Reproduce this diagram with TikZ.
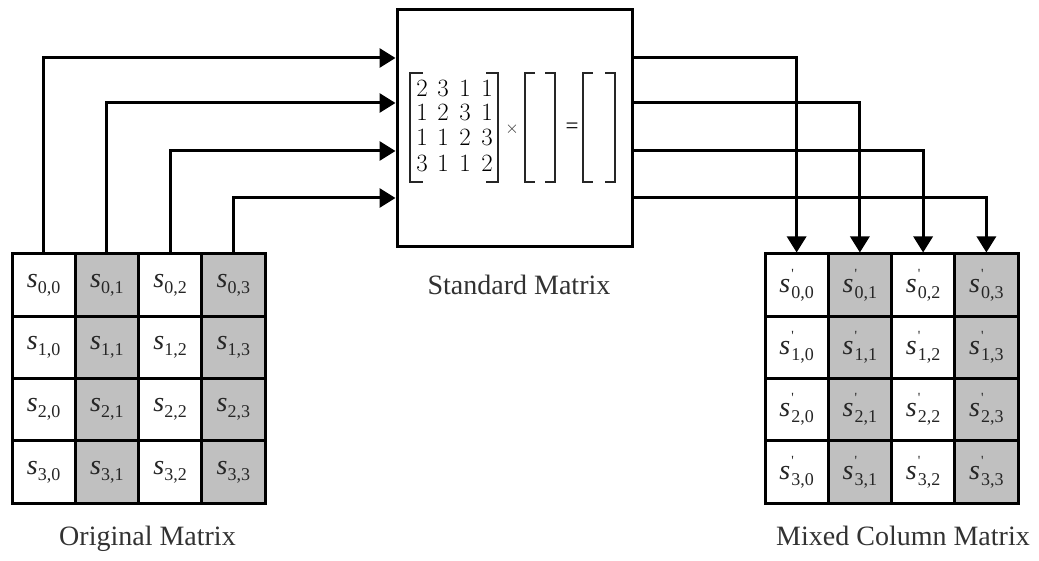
\documentclass[tikz,border=0pt]{standalone}
\usepackage{fontspec}
\setmainfont{Liberation Serif}
\usetikzlibrary{arrows.meta}
\definecolor{cellgrey}{RGB}{192,192,192}
\definecolor{txt}{RGB}{50,50,50}
\newcommand{\sv}[1]{\textit{s}\raisebox{-6pt}{\fontsize{18}{18}\selectfont #1}}
\newcommand{\spv}[1]{\textit{s}\kern1pt\rlap{\raisebox{14pt}{\fontsize{14}{14}\selectfont\textquotesingle}}\raisebox{-6pt}{\fontsize{18}{18}\selectfont #1}}
\tikzset{
  cellbox/.style={draw, line width=3pt, minimum width=63.25pt, minimum height=62.25pt,
    inner sep=0pt, font=\fontsize{28}{28}\selectfont, text=black!85},
  arr/.style={line width=3pt, -{Triangle[length=16pt,width=19pt]}},
  lbl/.style={font=\fontsize{28}{30}\selectfont, text=txt, anchor=base, inner sep=0pt},
  digit/.style={font=\fontsize{23}{23}\selectfont, text=black, inner sep=0pt},
  brk/.style={line width=1.6pt, draw=black!85}
}
\begin{document}
\begin{tikzpicture}[x=1pt,y=-1pt]
\useasboundingbox (0,0) rectangle (1039,561);
% central box
\node[draw, line width=3pt, minimum width=235pt, minimum height=237pt, inner sep=0pt] (box) at (514.5,128.5) {};
% matrix digits
\foreach \r/\y/\row in {0/88/{2,3,1,1},1/112/{1,2,3,1},2/137/{1,1,2,3},3/163/{3,1,1,2}} {
  \foreach \c/\x [count=\k from 0] in {0/422,1/443,2/465,3/487} {
    \pgfmathsetmacro{\dd}{{\row}[\k]}
    \node[digit] (d\r\c) at (\x,\y) {\pgfmathprintnumber{\dd}};
  }
}
% brackets
\draw[brk] (423,73) -- (410,73) -- (410,182) -- (423,182);
\draw[brk] (486,73) -- (498,73) -- (498,182) -- (486,182);
\draw[brk] (535,73) -- (525,73) -- (525,182) -- (535,182);
\draw[brk] (545,73) -- (555,73) -- (555,182) -- (545,182);
\draw[brk] (593,73) -- (583,73) -- (583,182) -- (593,182);
\draw[brk] (605,73) -- (615,73) -- (615,182) -- (605,182);
\node[digit, text=txt, font=\fontsize{18}{18}\selectfont] (times) at (512,129) {$\times$};
\node[digit] (eq) at (572,128) {=};
% cells
\foreach \r in {0,...,3} {
  \foreach \c/\f in {0/white,1/cellgrey,2/white,3/cellgrey} {
    \node[cellbox, fill=\f] (L\r\c) at ({12+63.25*(\c+0.5)},{254+62.25*(\r+0.5)}) {\sv{\r,\c}};
    \node[cellbox, fill=\f] (R\r\c) at ({765+63.25*(\c+0.5)},{254+62.25*(\r+0.5)}) {\spv{\r,\c}};
  }
}
% connectors
\foreach \i/\y in {0/58,1/103,2/151,3/198} {
  \coordinate (lv\i) at (0,\y);
  \draw[arr] (L0\i.north) |- (box.west |- lv\i);
  \draw[arr] (box.east |- lv\i) -| (R0\i.north);
}
% labels
\node[lbl] (std) at (519,295) {Standard Matrix};
\node[lbl] (orig) at (147.5,545) {Original Matrix};
\node[lbl] (mixed) at (903,545) {Mixed Column Matrix};
\end{tikzpicture}
\end{document}
